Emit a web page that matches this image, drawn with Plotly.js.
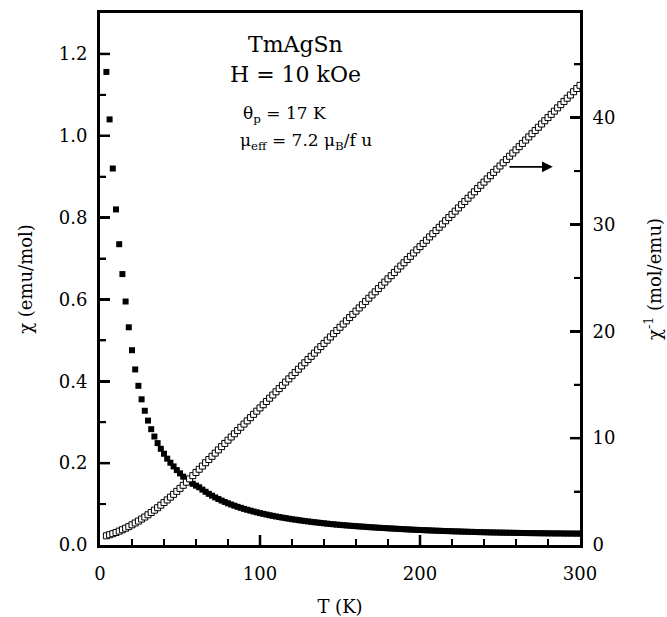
<!DOCTYPE html>
<html>
<head>
<meta charset="utf-8">
<script src="https://cdn.plot.ly/plotly-3.0.1.min.js"></script>
<style>html,body{margin:0;padding:0;background:#fff;}#chart{width:667px;height:617px;}</style>
</head>
<body>
<div id="chart"></div>
<script>
// Temperature (K)
var temperature = [4,6,8,10,12,14,16,18,20,22,24,26,28,30,32,34,36,38,40,42,44,46,48,50,52,54,56,58,60,62,64,66,68,70,72,74,76,78,80,82,84,86,88,90,92,94,96,98,100,102,104,106,108,110,112,114,116,118,120,122,124,126,128,130,132,134,136,138,140,142,144,146,148,150,152,154,156,158,160,162,164,166,168,170,172,174,176,178,180,182,184,186,188,190,192,194,196,198,200,202,204,206,208,210,212,214,216,218,220,222,224,226,228,230,232,234,236,238,240,242,244,246,248,250,252,254,256,258,260,262,264,266,268,270,272,274,276,278,280,282,284,286,288,290,292,294,296,298,300];
// chi (emu/mol), left axis
var chi = [1.156,1.040,0.920,0.820,0.735,0.662,0.595,0.532,0.476,0.429,0.389,0.356,0.328,0.304,0.283,0.265,0.249,0.235,0.223,0.211,0.201,0.192,0.183,0.175,0.167,0.160,0.1545,0.1495,0.1450,0.1410,0.1353,0.1300,0.1250,0.1205,0.1163,0.1123,0.1086,0.1052,0.1019,0.0989,0.0960,0.0933,0.0908,0.0883,0.0861,0.0839,0.0818,0.0798,0.0779,0.0762,0.0745,0.0728,0.0712,0.0697,0.0683,0.0669,0.0656,0.0643,0.0631,0.0619,0.0608,0.0597,0.0586,0.0576,0.0566,0.0557,0.0548,0.0539,0.0530,0.0522,0.0514,0.0506,0.0498,0.0491,0.0485,0.0478,0.0472,0.0466,0.0460,0.0454,0.0449,0.0443,0.0437,0.0432,0.0427,0.0422,0.0417,0.0413,0.0408,0.0404,0.0399,0.0395,0.0390,0.0386,0.0382,0.0378,0.0374,0.0370,0.0367,0.0363,0.0360,0.0357,0.0353,0.0350,0.0347,0.0344,0.0341,0.0339,0.0336,0.0333,0.0331,0.0328,0.0326,0.0323,0.0321,0.0319,0.0316,0.0314,0.0312,0.0310,0.0308,0.0306,0.0305,0.0303,0.0301,0.0300,0.0299,0.0297,0.0296,0.0295,0.0293,0.0292,0.0291,0.0290,0.0289,0.0288,0.0287,0.0286,0.0285,0.0284,0.0283,0.0283,0.0282,0.0281,0.0280,0.0280,0.0279,0.0278,0.0278];
// inverse chi (mol/emu), right axis
var chiInv = [0.86,0.96,1.06,1.17,1.30,1.43,1.57,1.72,1.89,2.06,2.24,2.43,2.62,2.83,3.04,3.26,3.49,3.73,3.97,4.22,4.48,4.74,5.02,5.30,5.59,5.88,6.19,6.49,6.79,7.09,7.39,7.70,8.00,8.30,8.60,8.90,9.21,9.51,9.81,10.11,10.41,10.72,11.02,11.32,11.62,11.92,12.23,12.53,12.83,13.13,13.43,13.74,14.04,14.34,14.64,14.94,15.25,15.55,15.85,16.15,16.45,16.76,17.06,17.36,17.66,17.96,18.27,18.57,18.87,19.17,19.47,19.78,20.08,20.38,20.68,20.98,21.29,21.59,21.89,22.19,22.49,22.80,23.10,23.40,23.70,24.00,24.31,24.61,24.91,25.21,25.51,25.82,26.12,26.42,26.72,27.02,27.33,27.63,27.93,28.23,28.53,28.84,29.14,29.44,29.74,30.04,30.35,30.65,30.95,31.25,31.55,31.86,32.16,32.46,32.76,33.06,33.37,33.67,33.97,34.27,34.57,34.88,35.18,35.48,35.78,36.08,36.39,36.69,36.99,37.29,37.59,37.90,38.20,38.50,38.80,39.10,39.41,39.71,40.01,40.31,40.61,40.92,41.22,41.52,41.82,42.12,42.43,42.73,43.03];

// tick positions (axis values)
var xMajorTicks = [100, 200];
var xMinorTicks = [20, 40, 60, 80, 120, 140, 160, 180, 220, 240, 260, 280];
var yMajorTicks = [0.2, 0.4, 0.6, 0.8, 1.0, 1.2];
var yMinorTicks = [0.1, 0.3, 0.5, 0.7, 0.9, 1.1];
var y2MajorTicks = [10, 20, 30, 40];
var y2MinorTicks = [5, 15, 25, 35, 45];

var xRange = [0, 300];
var yRange = [0, 1.3];
var y2Range = [0, 49.8];

var serif = 'DejaVu Serif, Liberation Serif, serif';

var traces = [
  {x: temperature, y: chi, type: 'scatter', mode: 'markers', xaxis: 'x', yaxis: 'y',
   marker: {symbol: 'square', size: 6, color: '#000'}, showlegend: false, hoverinfo: 'skip'},
  {x: temperature, y: chiInv, type: 'scatter', mode: 'markers', xaxis: 'x', yaxis: 'y2',
   marker: {symbol: 'square', size: 6, color: '#fff', line: {color: '#000', width: 1}}, showlegend: false, hoverinfo: 'skip'}
];

// inward tick marks, placed through the axes' own scales
var shapes = [];
function bottomTick(v, len, w) {
  shapes.push({type: 'line', xref: 'x', yref: 'paper', ysizemode: 'pixel', yanchor: 0,
    x0: v, x1: v, y0: 0, y1: len, line: {color: '#000', width: w}, layer: 'above'});
}
function leftTick(v, len, w) {
  shapes.push({type: 'line', xref: 'paper', yref: 'y', xsizemode: 'pixel', xanchor: 0,
    x0: 0, x1: len, y0: v, y1: v, line: {color: '#000', width: w}, layer: 'above'});
}
function rightTick(v, len, w) {
  shapes.push({type: 'line', xref: 'paper', yref: 'y2', xsizemode: 'pixel', xanchor: 1,
    x0: 0, x1: -len, y0: v, y1: v, line: {color: '#000', width: w}, layer: 'above'});
}
xMajorTicks.forEach(function(v){ bottomTick(v, 10, 2.5); });
xMinorTicks.forEach(function(v){ bottomTick(v, 6, 2); });
yMajorTicks.forEach(function(v){ leftTick(v, 10, 2.5); });
yMinorTicks.forEach(function(v){ leftTick(v, 6, 2); });
y2MajorTicks.forEach(function(v){ rightTick(v, 10, 2.5); });
y2MinorTicks.forEach(function(v){ rightTick(v, 6, 2); });

var lineAxis = {
  showgrid: false, zeroline: false, showline: true, linecolor: '#000', linewidth: 3,
  ticks: 'inside', ticklen: 10, tickwidth: 2.5, tickcolor: '#000',
  tickfont: {family: serif, size: 18, color: '#000'}
};
function minorTicks(d) {
  return {dtick: d, tick0: 0, ticks: 'inside', ticklen: 6, tickwidth: 2, tickcolor: '#000', showgrid: false};
}

var layout = {
  width: 667, height: 617,
  margin: {l: 100, r: 87, t: 13, b: 72},
  paper_bgcolor: '#fff', plot_bgcolor: 'rgba(0,0,0,0)',
  font: {family: serif, color: '#000'},
  xaxis: Object.assign({}, lineAxis, {
    range: xRange, dtick: 100, tick0: 0, mirror: true, ticklabelstandoff: 10,
    minor: minorTicks(20),
    title: {text: 'T (K)', font: {family: serif, size: 18}, standoff: 20}
  }),
  yaxis: Object.assign({}, lineAxis, {
    range: yRange, dtick: 0.2, tick0: 0, tickformat: '.1f', ticklabelstandoff: 6,
    minor: minorTicks(0.1),
    title: {text: 'χ (emu/mol)', font: {family: serif, size: 18}, standoff: 22}
  }),
  yaxis2: Object.assign({}, lineAxis, {
    overlaying: 'y', side: 'right', range: y2Range, dtick: 10, tick0: 0, ticklabelstandoff: 6,
    minor: minorTicks(5),
    title: {text: 'χ<sup>-1</sup> (mol/emu)', font: {family: serif, size: 18}, standoff: 34}
  }),
  shapes: shapes,
  annotations: [
    {xref: 'paper', yref: 'paper', x: 0.408, y: 0.94, text: 'TmAgSn', showarrow: false,
     font: {family: serif, size: 22}, xanchor: 'center', yanchor: 'middle'},
    {xref: 'paper', yref: 'paper', x: 0.408, y: 0.884, text: 'H = 10 kOe', showarrow: false,
     font: {family: serif, size: 22}, xanchor: 'center', yanchor: 'middle'},
    {xref: 'paper', yref: 'paper', x: 0.294, y: 0.81, text: 'θ<sub>p</sub> = 17 K', showarrow: false,
     font: {family: serif, size: 17}, xanchor: 'left', yanchor: 'middle'},
    {xref: 'paper', yref: 'paper', x: 0.288, y: 0.758, text: 'μ<sub>eff</sub> = 7.2 μ<sub>B</sub>/f u', showarrow: false,
     font: {family: serif, size: 17}, xanchor: 'left', yanchor: 'middle'},
    {xref: 'x', yref: 'y2', axref: 'x', ayref: 'y2', x: 283, y: 35.4, ax: 255, ay: 35.4,
     text: '', showarrow: true, arrowhead: 2, arrowsize: 1.2, arrowwidth: 1.8, arrowcolor: '#000'}
  ]
};

Plotly.newPlot('chart', traces, layout, {staticPlot: true, displayModeBar: false});
</script>
</body>
</html>
